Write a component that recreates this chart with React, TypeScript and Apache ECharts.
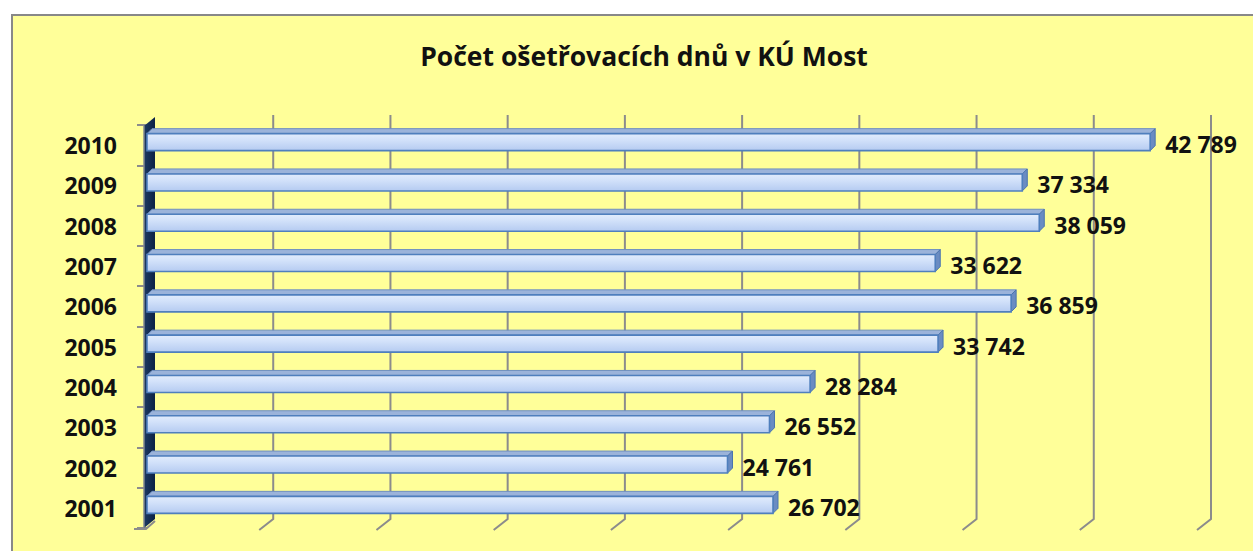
import React, { useEffect, useRef } from "react";
import * as echarts from "echarts";

const years = ["2001", "2002", "2003", "2004", "2005", "2006", "2007", "2008", "2009", "2010"];
const days = [26702, 24761, 26552, 28284, 33742, 36859, 33622, 38059, 37334, 42789];
const gridTicks = [5000, 10000, 15000, 20000, 25000, 30000, 35000, 40000, 45000];
const titleText = "Počet ošetřovacích dnů v KÚ Most";

const FONT = "'Open Sans', 'Liberation Sans', sans-serif";

function fmt(v: number): string {
  const s = String(Math.round(v));
  return s.replace(/\B(?=(\d{3})+(?!\d))/g, " ");
}

export default function App() {
  const ref = useRef<HTMLDivElement>(null);

  useEffect(() => {
    if (!ref.current) return;
    const chart = echarts.init(ref.current, undefined, { renderer: "svg" });
    const DX = 9;
    const DY = -10;
    const D = 5;

    const option: any = {
      animation: false,
      backgroundColor: "#ffffff",
      title: {
        text: titleText,
        left: 639,
        textAlign: "center",
        top: 37,
        textStyle: { fontFamily: FONT, fontWeight: "bold", fontSize: 26.5, color: "#111" },
      },
      graphic: [
        {
          type: "rect",
          z: -100,
          shape: { x: 12, y: 15, width: 1300, height: 600 },
          style: { fill: "#FFFF99", stroke: "#888888", lineWidth: 2 },
        },
      ],
      grid: { left: 147, top: 125, width: 1055, height: 403, containLabel: false },
      xAxis: {
        type: "value",
        min: 0,
        max: 45000,
        interval: 5000,
        axisLabel: { show: false },
        axisLine: { show: false },
        axisTick: { show: false },
        splitLine: { show: false },
      },
      yAxis: {
        type: "category",
        data: years,
        offset: 3,
        axisLine: { show: false },
        axisTick: { show: true, length: 10, lineStyle: { color: "#8c8c8c", width: 2 } },
        axisLabel: {
          margin: 27,
          fontFamily: FONT,
          fontWeight: "bold",
          fontSize: 23,
          color: "#111",
          padding: [6, 0, 0, 0],
        },
        splitLine: { show: false },
      },
      series: [
        {
          type: "custom",
          name: "grid",
          z: 1,
          silent: true,
          data: gridTicks.map((v) => [v, 0]),
          renderItem: (params: any, api: any) => {
            const cs = params.coordSys;
            const x = api.coord([api.value(0), 0])[0];
            const top = cs.y + DY;
            const bot = cs.y + cs.height - 9;
            return {
              type: "polyline",
              shape: {
                points: [
                  [x + DX, top],
                  [x + DX, bot],
                  [x - 5, bot + 11],
                ],
              },
              style: { stroke: "#8c8c8c", lineWidth: 2, fill: null },
            };
          },
        },
        {
          type: "custom",
          name: "wall",
          z: 2,
          silent: true,
          data: [[0, 0]],
          renderItem: (params: any, api: any) => {
            const cs = params.coordSys;
            const x0 = api.coord([0, 0])[0];
            const y0 = cs.y;
            const y1 = cs.y + cs.height;
            return {
              type: "group",
              children: [
                {
                  type: "polygon",
                  shape: {
                    points: [
                      [x0 - 3, y0 + 1],
                      [x0 + 8, y0 - 8],
                      [x0 + 8, y1 - 9],
                      [x0 - 3, y1],
                    ],
                  },
                  style: {
                    fill: {
                      type: "linear",
                      x: 0,
                      y: 0,
                      x2: 1,
                      y2: 0,
                      colorStops: [
                        { offset: 0, color: "#1d3a62" },
                        { offset: 1, color: "#0c2244" },
                      ],
                    },
                  },
                },
                {
                  type: "line",
                  shape: { x1: x0 - 3, y1: y0 + 1, x2: x0 - 3, y2: y1 },
                  style: { stroke: "#7f8790", lineWidth: 1.5 },
                },
                {
                  type: "polyline",
                  shape: {
                    points: [
                      [x0 - 13, y1 + 1],
                      [x0 - 1, y1 + 1],
                      [x0 + 8, y1 - 7],
                    ],
                  },
                  style: { stroke: "#8c8c8c", lineWidth: 2, fill: null },
                },
              ],
            };
          },
        },
        {
          type: "custom",
          name: "Počet ošetřovacích dnů",
          z: 3,
          data: days.map((v, i) => [v, i]),
          renderItem: (params: any, api: any) => {
            const v = api.value(0);
            const idx = api.value(1);
            const pEnd = api.coord([v, idx]);
            const p0 = api.coord([0, idx]);
            const cy = pEnd[1] - 3;
            const h = 17;
            const yT = cy - h / 2;
            const yB = cy + h / 2;
            const xs = p0[0];
            const xe = pEnd[0];
            return {
              type: "group",
              children: [
                {
                  type: "polygon",
                  shape: {
                    points: [
                      [xs, yT],
                      [xs + D, yT - D],
                      [xe + D, yT - D],
                      [xe, yT],
                    ],
                  },
                  style: { fill: "#9bb3da", stroke: "#6f8fc0", lineWidth: 1 },
                },
                {
                  type: "polygon",
                  shape: {
                    points: [
                      [xe, yT],
                      [xe + D, yT - D],
                      [xe + D, yB - D],
                      [xe, yB],
                    ],
                  },
                  style: { fill: "#6a8cc2", stroke: "#4a74ae", lineWidth: 1 },
                },
                {
                  type: "rect",
                  shape: { x: xs, y: yT, width: xe - xs, height: h },
                  style: {
                    fill: {
                      type: "linear",
                      x: 0,
                      y: 0,
                      x2: 0,
                      y2: 1,
                      colorStops: [
                        { offset: 0, color: "#e2ecfc" },
                        { offset: 0.35, color: "#d3e2fa" },
                        { offset: 1, color: "#b5cbf1" },
                      ],
                    },
                    stroke: "#4f7fbd",
                    lineWidth: 1.6,
                  },
                },
                {
                  type: "text",
                  style: {
                    x: xe + 15,
                    y: cy + 2,
                    text: fmt(v),
                    fill: "#111",
                    font: `bold 23px ${FONT}`,
                    align: "left",
                    verticalAlign: "middle",
                  },
                },
              ],
            };
          },
        },
      ],
    };

    chart.setOption(option);
    return () => chart.dispose();
  }, []);

  return (
    <div
      ref={ref}
      style={{ position: "fixed", left: 0, top: 0, width: 1253, height: 551, overflow: "hidden" }}
    />
  );
}
